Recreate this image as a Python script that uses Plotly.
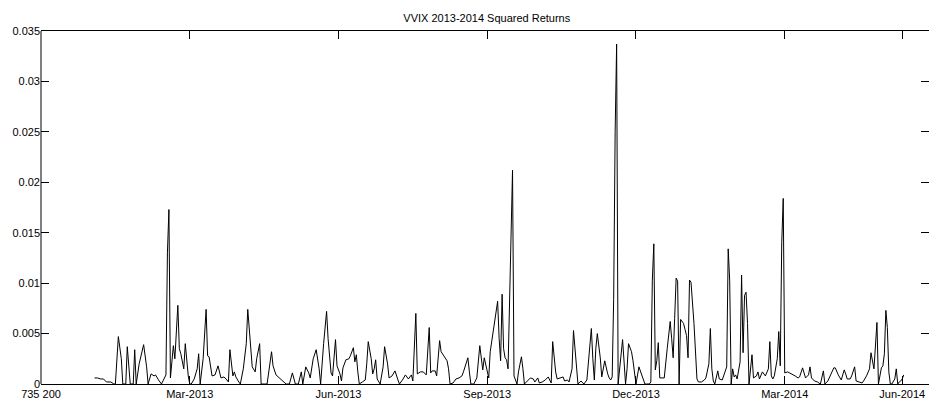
import plotly.graph_objects as go

BASE_DATENUM = 735200

# trading-day offsets (days after datenum 735200, i.e. from 2-Jan-2013 on)
day_offsets = [
    36, 38, 40, 42, 44, 47, 49, 50, 52, 54, 55, 57, 58, 60, 62, 63, 64, 66, 69, 71,
    72, 74, 76, 77, 79, 81, 82, 84, 85, 86, 87, 89, 90, 92, 93, 94, 96, 97, 99, 100,
    101, 103, 105, 106, 107, 109, 111, 112, 113, 115, 117, 119, 121, 123, 125, 126, 127, 129, 130, 131,
    133, 134, 136, 138, 139, 141, 142, 144, 145, 147, 148, 150, 151, 152, 155, 156, 158, 160, 162, 164,
    165, 167, 169, 171, 173, 175, 176, 178, 180, 181, 183, 185, 187, 188, 190, 192, 193, 195, 196, 198,
    199, 201, 202, 203, 205, 207, 208, 210, 211, 212, 213, 214, 216, 218, 219, 220, 222, 223, 224, 225,
    226, 228, 230, 231, 233, 234, 236, 238, 240, 241, 243, 245, 247, 249, 250, 252, 253, 255, 257, 259,
    261, 262, 263, 265, 266, 268, 269, 271, 273, 274, 275, 277, 279, 281, 283, 284, 287, 288, 289, 291,
    293, 295, 297, 298, 301, 302, 304, 305, 307, 308, 309, 310, 311, 312, 313, 314, 316, 317, 318, 320,
    321, 323, 324, 325, 327, 329, 331, 332, 334, 335, 337, 339, 341, 343, 344, 346, 347, 349, 351, 352,
    354, 355, 357, 358, 360, 361, 363, 365, 367, 369, 370, 371, 372, 373, 374, 376, 377, 379, 380, 381,
    382, 383, 384, 385, 386, 387, 388, 389, 391, 393, 394, 395, 397, 398, 399, 400, 402, 404, 406, 407,
    409, 410, 411, 412, 413, 414, 415, 416, 417, 419, 421, 423, 424, 425, 426, 427, 428, 429, 430, 432,
    433, 434, 435, 436, 437, 439, 441, 442, 444, 446, 447, 449, 450, 451, 452, 453, 455, 456, 458, 460,
    461, 462, 463, 464, 465, 466, 467, 468, 470, 471, 472, 473, 474, 475, 476, 478, 479, 481, 482, 483,
    485, 487, 489, 490, 491, 492, 493, 495, 496, 497, 498, 499, 500, 502, 505, 507, 509, 510, 512, 514,
    516, 517, 518, 520, 522, 524, 526, 527, 529, 531, 533, 534, 536, 538, 540, 541, 542, 544, 545, 547,
    548, 550, 552, 553, 555, 557, 558, 560, 561, 562, 563, 565, 566, 567, 568, 569, 570, 571, 572, 574,
    575, 576, 577, 578, 579, 580,
]

squared_returns = [
    0.0006, 0.0006, 0.0005, 0.0005, 0.0002, 0.0002, 0.0, 0.0, 0.0047, 0.0025, 0.0, 0.0, 0.0037, 0.0, 0.0, 0.0034, 0.0, 0.0020, 0.0039, 0.0017,
    0.0, 0.0010, 0.0008, 0.0009, 0.0004, 0.0, 0.0003, 0.0009, 0.0130, 0.0173, 0.0006, 0.0038, 0.0025, 0.0078, 0.0035, 0.0030, 0.0015, 0.0040, 0.0008, 0.0,
    0.0, 0.0005, 0.0015, 0.0030, 0.0, 0.0025, 0.0074, 0.0028, 0.0027, 0.0008, 0.0009, 0.0018, 0.0006, 0.0007, 0.0004, 0.0002, 0.0034, 0.0008, 0.0012, 0.0007,
    0.0002, 0.0, 0.0015, 0.0040, 0.0074, 0.0040, 0.0017, 0.0012, 0.0025, 0.0040, 0.0, 0.0, 0.0, 0.0, 0.0032, 0.0018, 0.0009, 0.0006, 0.0003, 0.0001,
    0.0, 0.0, 0.0011, 0.0, 0.0, 0.0012, 0.0, 0.0017, 0.0011, 0.0006, 0.0025, 0.0034, 0.0015, 0.0, 0.0040, 0.0072, 0.0045, 0.0011, 0.0008, 0.0044,
    0.0018, 0.0010, 0.0003, 0.0016, 0.0024, 0.0025, 0.0028, 0.0036, 0.0022, 0.0029, 0.0012, 0.0, 0.0002, 0.0004, 0.0020, 0.0042, 0.0025, 0.0010, 0.0015, 0.0024,
    0.0005, 0.0, 0.0017, 0.0037, 0.0020, 0.0006, 0.0008, 0.0013, 0.0004, 0.0, 0.0004, 0.0009, 0.0005, 0.0009, 0.0003, 0.0070, 0.0010, 0.0012, 0.0012, 0.0009,
    0.0056, 0.0011, 0.0013, 0.0013, 0.0008, 0.0043, 0.0032, 0.0028, 0.0023, 0.0015, 0.0, 0.0001, 0.0005, 0.0006, 0.0008, 0.0012, 0.0026, 0.0012, 0.0, 0.0,
    0.0006, 0.0038, 0.0014, 0.0026, 0.0006, 0.0032, 0.0053, 0.0062, 0.0082, 0.0045, 0.0023, 0.0089, 0.0035, 0.0026, 0.0024, 0.0015, 0.0162, 0.0212, 0.0008, 0.0,
    0.0012, 0.0027, 0.0015, 0.0, 0.0003, 0.0006, 0.0005, 0.0002, 0.0006, 0.0001, 0.0002, 0.0004, 0.0007, 0.0001, 0.0042, 0.0012, 0.0005, 0.0006, 0.0007, 0.0003,
    0.0004, 0.0002, 0.0015, 0.0053, 0.0012, 0.0, 0.0003, 0.0, 0.0004, 0.0035, 0.0055, 0.0025, 0.0004, 0.0035, 0.0050, 0.0026, 0.0007, 0.0023, 0.0016, 0.0010,
    0.0006, 0.0004, 0.0007, 0.0084, 0.0250, 0.0337, 0.0, 0.0015, 0.0044, 0.0, 0.0015, 0.0040, 0.0032, 0.0023, 0.0012, 0.0, 0.0017, 0.0008, 0.0, 0.0,
    0.0, 0.0002, 0.0103, 0.0139, 0.0014, 0.0023, 0.0041, 0.0006, 0.0006, 0.0006, 0.0035, 0.0062, 0.0045, 0.0026, 0.0065, 0.0105, 0.0102, 0.0, 0.0064, 0.0060,
    0.0054, 0.0048, 0.0026, 0.0103, 0.0101, 0.0060, 0.0005, 0.0002, 0.0002, 0.0004, 0.0006, 0.0020, 0.0055, 0.0015, 0.0003, 0.0, 0.0013, 0.0005, 0.0004, 0.0012,
    0.0017, 0.0134, 0.0103, 0.0, 0.0015, 0.0007, 0.0009, 0.0005, 0.0022, 0.0108, 0.0031, 0.0088, 0.0091, 0.0060, 0.0, 0.0029, 0.0006, 0.0008, 0.0012, 0.0005,
    0.0012, 0.0008, 0.0015, 0.0042, 0.0008, 0.0005, 0.0008, 0.0025, 0.0052, 0.0018, 0.0140, 0.0184, 0.0011, 0.0012, 0.0010, 0.0008, 0.0006, 0.0007, 0.0016, 0.0006,
    0.0009, 0.0017, 0.0006, 0.0003, 0.0002, 0.0, 0.0013, 0.0, 0.0003, 0.0010, 0.0016, 0.0016, 0.0009, 0.0004, 0.0014, 0.0010, 0.0005, 0.0005, 0.0008, 0.0017,
    0.0003, 0.0002, 0.0001, 0.0003, 0.0008, 0.0015, 0.0031, 0.0015, 0.0040, 0.0061, 0.0, 0.0016, 0.0018, 0.0030, 0.0073, 0.0056, 0.0012, 0.0, 0.0, 0.0005,
    0.0015, 0.0, 0.0002, 0.0003, 0.0005, 0.0009,
]

x_tick_values = [735200, 735300, 735400, 735500, 735600, 735700, 735779]
x_tick_labels = ["735 200", "Mar-2013", "Jun-2013", "Sep-2013", "Dec-2013", "Mar-2014", "Jun-2014"]
y_tick_values = [0, 0.005, 0.01, 0.015, 0.02, 0.025, 0.03, 0.035]
y_tick_labels = ["0", "0.005", "0.01", "0.015", "0.02", "0.025", "0.03", "0.035"]

dates = [BASE_DATENUM + d for d in day_offsets]

FONT = dict(family="Liberation Sans, Arial, sans-serif", size=11, color="black")

fig = go.Figure()
fig.add_trace(go.Scatter(x=dates, y=squared_returns, mode="lines",
                         line=dict(color="black", width=1), showlegend=False,
                         hoverinfo="x+y"))

fig.update_layout(
    width=929, height=399,
    margin=dict(l=41, r=0, t=31, b=15, autoexpand=False),
    paper_bgcolor="white", plot_bgcolor="white",
    font=FONT,
    title=dict(text="VVIX 2013-2014 Squared Returns", x=0.502, xref="paper",
               xanchor="center", y=1 - 18 / 399, yref="container", yanchor="middle",
               font=FONT),
    xaxis=dict(range=[735200, 735797], tickmode="array", tickvals=x_tick_values,
               ticktext=x_tick_labels, ticks="inside", ticklen=8, tickwidth=1,
               tickcolor="black", showline=True, linecolor="black", linewidth=1,
               mirror="ticks", showgrid=False, zeroline=False, automargin=False,
               tickfont=FONT),
    yaxis=dict(range=[0, 0.035], tickmode="array", tickvals=y_tick_values,
               ticktext=y_tick_labels, ticks="inside", ticklen=8, tickwidth=1,
               tickcolor="black", showline=False, mirror="ticks", showgrid=False,
               zeroline=False, automargin=False, tickfont=FONT),
    shapes=[dict(type="line", xref="paper", yref="paper", x0=0, x1=0, y0=0, y1=1,
                 line=dict(color="black", width=1), layer="above")],
)

fig.write_html("out.html")
